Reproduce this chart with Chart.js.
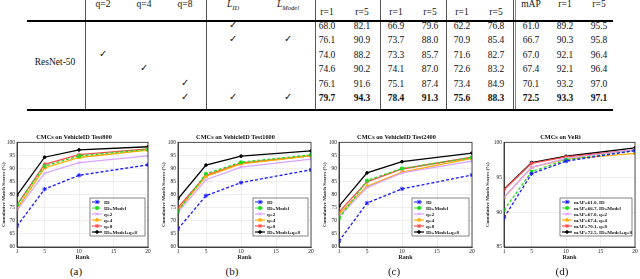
<!DOCTYPE html>
<html>
<head>
<meta charset="utf-8">
<script src="https://cdn.jsdelivr.net/npm/chart.js@4"></script>
<style>
  html, body { margin: 0; padding: 0; background: #fff; }
  body { width: 640px; height: 279px; position: relative; overflow: hidden;
         font-family: "Liberation Serif", "DejaVu Serif", serif; color: #111; }
  .cell { position: absolute; transform: translate(-50%, -50%); white-space: nowrap; font-size: 9.5px; line-height: 1; }
  .bold { font-weight: bold; }
  .vline { position: absolute; top: 0; width: 1px; height: 110px; background: #555; }
  .hline { position: absolute; left: 27px; width: 586px; background: #000; }
  .box { position: absolute; }
  .cap { position: absolute; top: 265px; font-size: 11px; transform: translateX(-50%); }
</style>
</head>
<body>
<div id="table"></div>

<div class="box" style="left:0px;top:128px;width:160px;height:134px"><canvas id="chartA"></canvas></div>
<div class="box" style="left:160px;top:128px;width:162px;height:134px"><canvas id="chartB"></canvas></div>
<div class="box" style="left:321px;top:128px;width:162px;height:134px"><canvas id="chartC"></canvas></div>
<div class="box" style="left:484px;top:128px;width:156px;height:134px"><canvas id="chartD"></canvas></div>

<div class="cap" style="left:76px">(a)</div>
<div class="cap" style="left:232px">(b)</div>
<div class="cap" style="left:394px">(c)</div>
<div class="cap" style="left:562px">(d)</div>

<script>
// ── Table data ──────────────────────────────────────────────────────
const checkHeaders = ["q=2", "q=4", "q=8"];
const scoreHeaders = ["r=1", "r=5", "r=1", "r=5", "r=1", "r=5"];
const veriHeaders  = ["mAP", "r=1", "r=5"];
const backbone     = "ResNet-50";

// q=2, q=4, q=8, L_ID, L_Model
const checks = [
  [0, 0, 0, 1, 0],
  [0, 0, 0, 1, 1],
  [1, 0, 0, 0, 0],
  [0, 1, 0, 0, 0],
  [0, 0, 1, 0, 0],
  [0, 0, 1, 1, 1],
];

const scores = [
  [68.0, 82.1, 66.9, 79.6, 62.2, 76.8, 61.0, 89.2, 95.5],
  [76.1, 90.9, 73.7, 88.0, 70.9, 85.4, 66.7, 90.3, 95.8],
  [74.0, 88.2, 73.3, 85.7, 71.6, 82.7, 67.0, 92.1, 96.4],
  [74.6, 90.2, 74.1, 87.0, 72.6, 83.2, 67.4, 92.1, 96.4],
  [76.1, 91.6, 75.1, 87.4, 73.4, 84.9, 70.1, 93.2, 97.0],
  [79.7, 94.3, 78.4, 91.3, 75.6, 88.3, 72.5, 93.3, 97.1],
];

// ── Chart data ──────────────────────────────────────────────────────
const ranks   = [1, 5, 10, 20];
const xTicks  = [1, 5, 10, 15, 20];
const names   = ["ID", "ID+Model", "q=2", "q=4", "q=8", "ID+Model+q=8"];
const veriNames = ["mAP=61.0, ID", "mAP=66.7, ID+Model", "mAP=67.0, q=2",
                   "mAP=67.4, q=4", "mAP=70.1, q=8", "mAP=72.5, ID+Model+q=8"];

const test800 = [
  [68.0, 82.1, 87.4, 91.4],
  [76.1, 90.9, 94.8, 97.3],
  [74.0, 88.2, 92.2, 94.8],
  [74.6, 90.2, 94.2, 97.0],
  [76.1, 91.6, 95.3, 97.5],
  [79.7, 94.3, 97.1, 98.3],
];
const test1600 = [
  [66.9, 79.6, 84.6, 89.5],
  [73.7, 88.0, 92.4, 95.2],
  [73.3, 85.7, 90.5, 93.6],
  [74.1, 87.0, 91.8, 94.8],
  [75.1, 87.4, 92.0, 94.9],
  [78.4, 91.3, 94.7, 96.7],
];
const test2400 = [
  [62.2, 76.8, 82.2, 87.5],
  [70.9, 85.4, 90.0, 94.2],
  [71.6, 82.7, 88.3, 92.8],
  [72.6, 83.2, 88.6, 93.9],
  [73.4, 84.9, 89.8, 94.3],
  [75.6, 88.3, 92.6, 95.9],
];
const veri = [
  [89.2, 95.5, 97.3, 98.8],
  [90.3, 95.8, 97.5, 98.8],
  [92.1, 96.4, 97.7, 98.9],
  [92.1, 96.4, 97.6, 98.4],
  [93.2, 97.0, 97.9, 98.9],
  [93.3, 97.1, 98.0, 99.2],
];

// ── Table rendering ─────────────────────────────────────────────────
const tbl = document.getElementById("table");
const checkX = [103, 144, 185, 233, 288];
const numX   = [327, 362, 396, 430, 462, 496, 531, 565, 599];
const rowY   = [27, 41.4, 55.8, 70.2, 84.6, 99];

function cell(html, x, y, cls) {
  const d = document.createElement("div");
  d.className = "cell" + (cls ? " " + cls : "");
  d.style.left = x + "px";
  d.style.top = y + "px";
  d.innerHTML = html;
  tbl.appendChild(d);
}

[85, 206, 315, 380, 446, 513].forEach((x) => {
  const d = document.createElement("div");
  d.className = "vline";
  d.style.left = x + "px";
  tbl.appendChild(d);
});
{
  const d = document.createElement("div");
  d.className = "vline"; d.style.left = "515px"; d.style.background = "#888";
  tbl.appendChild(d);
}
[[20, 1.5], [109, 2]].forEach(([y, h]) => {
  const d = document.createElement("div");
  d.className = "hline";
  d.style.top = y + "px";
  d.style.height = h + "px";
  tbl.appendChild(d);
});

checkHeaders.forEach((t, i) => cell(t, checkX[i], 5));
cell("<i>L</i><sub style='font-size:6.5px'><i>ID</i></sub>", checkX[3], 6);
cell("<i>L</i><sub style='font-size:6.5px'><i>Model</i></sub>", checkX[4], 6);
scoreHeaders.forEach((t, i) => cell(t, numX[i], 13));
veriHeaders.forEach((t, i) => cell(t, numX[6 + i], 5));
cell(backbone, 55, 63);

checks.forEach((row, r) => row.forEach((c, i) => {
  if (c) cell("&#10003;", checkX[i], rowY[r] - 1, "");
}));
scores.forEach((row, r) => row.forEach((v, i) => {
  cell(v.toFixed(1), numX[i], rowY[r], r === scores.length - 1 ? "bold" : "");
}));

// ── Charts ──────────────────────────────────────────────────────────
const styles = [
  { color: "#1a1aff", dash: [3, 2], point: "star",     r: 2.2 },
  { color: "#1fdc1f", dash: [3, 2], point: "rect",     r: 1.8 },
  { color: "#d9a3ff", dash: [],     point: "crossRot", r: 2.0 },
  { color: "#ffaa00", dash: [],     point: "triangle", r: 2.0 },
  { color: "#ff4d4d", dash: [],     point: "star",     r: 2.0 },
  { color: "#000000", dash: [],     point: "circle",   r: 1.3 },
];

const serif = "'Liberation Serif', 'DejaVu Serif', serif";

const frame = {
  id: "frame",
  afterDraw(chart) {
    const { ctx, chartArea: a } = chart;
    ctx.save();
    ctx.strokeStyle = "#262626";
    ctx.lineWidth = 0.8;
    ctx.strokeRect(a.left, a.top, a.right - a.left, a.bottom - a.top);
    ctx.restore();
  },
};

const boxLegend = {
  id: "boxLegend",
  afterDraw(chart, args, opts) {
    const { ctx, chartArea: a } = chart;
    const sets = chart.data.datasets;
    const h = sets.length * opts.rowH + 2;
    const x0 = a.right - opts.right - opts.width;
    const y0 = a.bottom - opts.bottom - h;
    ctx.save();
    ctx.fillStyle = "#fff";
    ctx.fillRect(x0, y0, opts.width, h);
    ctx.strokeStyle = "#333";
    ctx.lineWidth = 0.6;
    ctx.strokeRect(x0, y0, opts.width, h);
    ctx.font = "bold 5px " + serif;
    ctx.textBaseline = "middle";
    sets.forEach((ds, i) => {
      const y = y0 + 1 + opts.rowH * (i + 0.5);
      ctx.strokeStyle = ds.borderColor;
      ctx.fillStyle = ds.borderColor;
      ctx.lineWidth = 1.2;
      ctx.setLineDash(ds.borderDash || []);
      ctx.beginPath();
      ctx.moveTo(x0 + 2, y);
      ctx.lineTo(x0 + 12, y);
      ctx.stroke();
      ctx.setLineDash([]);
      ctx.lineWidth = 1;
      Chart.helpers.drawPoint(ctx, { pointStyle: ds.pointStyle, radius: ds.pointRadius, rotation: 0, borderWidth: 1 }, x0 + 7, y);
      ctx.fillStyle = "#111";
      ctx.fillText(ds.label, x0 + 14, y + 0.3);
    });
    ctx.restore();
  },
};

function makeChart(id, title, rows, labels, yMin, yWidth, padRight, legendWidth) {
  return new Chart(document.getElementById(id), {
    type: "line",
    data: {
      datasets: rows.map((vals, i) => ({
        label: labels[i],
        data: vals.map((v, k) => ({ x: ranks[k], y: v })),
        borderColor: styles[i].color,
        backgroundColor: styles[i].color,
        borderWidth: 1.3,
        borderDash: styles[i].dash,
        pointStyle: styles[i].point,
        pointRadius: styles[i].r,
        pointBorderWidth: 1,
        tension: 0,
      })),
    },
    options: {
      responsive: true,
      maintainAspectRatio: false,
      animation: false,
      layout: { padding: { left: 0, right: padRight, top: 0, bottom: 0 } },
      plugins: {
        legend: { display: false },
        tooltip: { enabled: false },
        title: {
          display: true, text: title, color: "#111",
          font: { family: serif, size: 6.3, weight: "bold", lineHeight: 1 },
          padding: { top: 6, bottom: 2 },
        },
        boxLegend: { width: legendWidth, rowH: 6, right: 3, bottom: 11 },
      },
      scales: {
        x: {
          type: "linear", min: 1, max: 20,
          afterBuildTicks: (s) => { s.ticks = xTicks.map((v) => ({ value: v })); },
          afterFit: (s) => { s.height = 15; },
          ticks: { color: "#222", font: { family: serif, size: 5.5 }, padding: 1 },
          grid: { color: "#e3e3e3", lineWidth: 0.6, drawTicks: false },
          border: { color: "#262626", width: 0.8 },
          title: { display: true, text: "Rank", color: "#222",
                   font: { family: serif, size: 6, weight: "bold", lineHeight: 1 }, padding: { top: 0, bottom: 2 } },
        },
        y: {
          min: yMin, max: 100,
          afterFit: (s) => { s.width = yWidth; },
          ticks: { stepSize: 5, color: "#222", font: { family: serif, size: 5.5 }, padding: 2 },
          grid: { color: "#e3e3e3", lineWidth: 0.6, drawTicks: false },
          border: { color: "#262626", width: 0.8 },
          title: { display: true, text: "Cumulative Match Scores (%)", color: "#222",
                   font: { family: serif, size: 5, weight: "bold", lineHeight: 1 }, padding: { top: 1, bottom: 0 } },
        },
      },
    },
    plugins: [frame, boxLegend],
  });
}

makeChart("chartA", "CMCs on VehicleID Test800",  test800,  names, 60, 17, 12, 55);
makeChart("chartB", "CMCs on VehicleID Test1600", test1600, names, 60, 18, 11, 55);
makeChart("chartC", "CMCs on VehicleID Test2400", test2400, names, 60, 18, 11, 57);
makeChart("chartD", "CMCs on VeRi",               veri,     veriNames, 85, 20, 3, 72);
</script>
</body>
</html>
